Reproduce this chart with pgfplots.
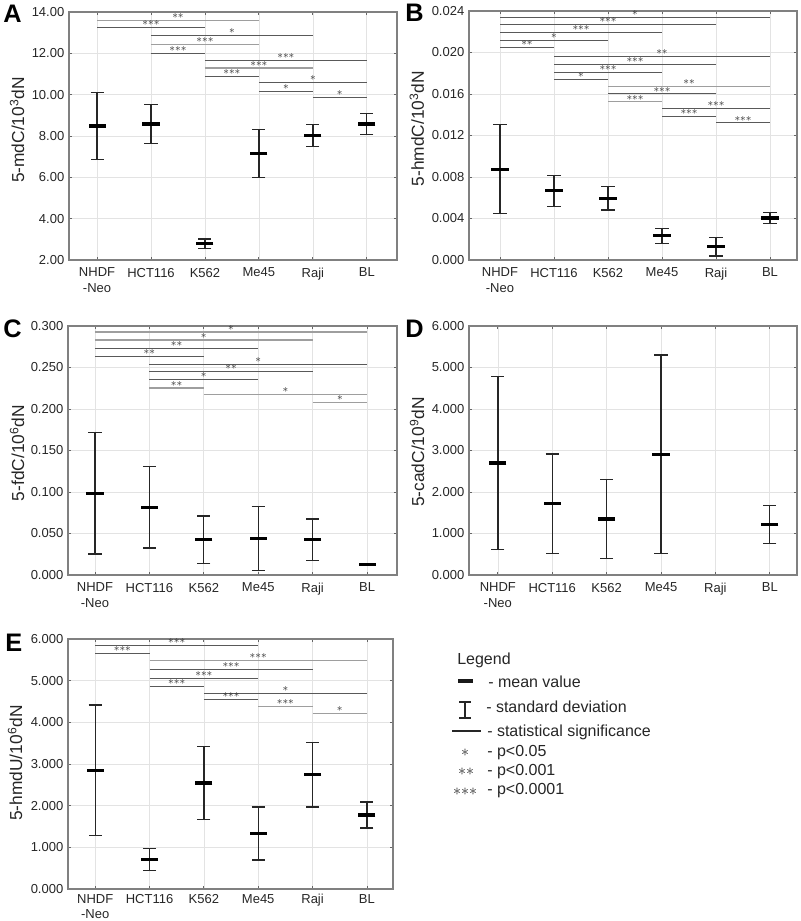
\documentclass[border=0pt]{standalone}
\usepackage{fontspec}
\setmainfont{Liberation Sans}
\usepackage{pgfplots}
\usepackage{pgfplotstable}
\pgfplotsset{compat=1.18}

\newcommand\tickfont{\fontsize{9.75}{11.3}\selectfont}
\newcommand\labfont{\fontsize{13}{15}\selectfont}
\newcommand\starfont{\fontsize{8.5}{9}\selectfont}
\newcommand\stOne{$\ast$}
\newcommand\stTwo{${\ast}{\ast}$}
\newcommand\stThree{${\ast}{\ast}{\ast}$}
\colorlet{dk}{black!65}
\colorlet{lt}{black!38}

% significance line: x1, x2, midpoint, y, stars, colour
\newcommand\sig[6]{%
  \addplot[#6, line width=0.8pt, forget plot] coordinates {(#1,#4) (#2,#4)};
  \node[inner sep=0pt, anchor=south, yshift=1.2pt, text=black!80, font=\starfont] at (axis cs:#3,#4) {#5};
}
\newcommand\meanplot[1]{%
  \addplot[black, only marks, mark=-, mark size=6.4pt, mark options={line width=2.4pt, black},
    error bars/.cd, y dir=both, y explicit, error mark=|,
    error bar style={line width=1pt, black!85},
    error mark options={line width=1pt, mark size=4.9pt, black!85}]
    table[x=x, y=m, y error=sd] {#1};
}

\pgfplotsset{
  panel/.style={
    scale only axis,
    anchor=south west,
    xtick={0,1,2,3,4,5},
    xticklabels={{NHDF\\-Neo},HCT116,K562,Me45,Raji,BL},
    xticklabel style={align=center, font=\tickfont, text=black!85, yshift=-2.5pt},
    yticklabel style={font=\tickfont, text=black!85,
      /pgf/number format/fixed, /pgf/number format/fixed zerofill,
      /pgf/number format/assume math mode=true},
    scaled y ticks=false,
    grid=major,
    major grid style={black!11, line width=0.5pt},
    axis line style={black!50, line width=1.1pt},
    tick style={black!60, line width=0.6pt},
    major tick length=2.5pt,
    clip=false,
  },
  ylab/.style n args={2}{every axis y label/.style={at={(axis description cs:#1,#2)}, rotate=90, anchor=center, font=\labfont, text=black!85}},
}

\pgfplotstableread{
x m sd
0 8.48 1.62
1 8.58 0.94
2 2.79 0.22
3 7.15 1.17
4 8.02 0.54
5 8.58 0.52
}\dataA
\pgfplotstableread{
x m sd
0 0.00875 0.0043
1 0.00667 0.0015
2 0.00596 0.00115
3 0.00233 0.00073
4 0.00128 0.00088
5 0.00405 0.00053
}\dataB
\pgfplotstableread{
x m sd
0 0.0984 0.073
1 0.0817 0.049
2 0.0426 0.0285
3 0.0438 0.0386
4 0.0426 0.025
5 0.0129 0.0012
}\dataC
\pgfplotstableread{
x m sd
0 2.70 2.09
1 1.72 1.197
2 1.35 0.956
3 2.91 2.39
5 1.22 0.462
}\dataD
\pgfplotstableread{
x m sd
0 2.850 1.567
1 0.715 0.265
2 2.545 0.870
3 1.333 0.635
4 2.745 0.775
5 1.775 0.313
}\dataE

\newcommand\PP[2]{({#1*0.75pt},{(921-#2)*0.75pt})}

\begin{document}
\begin{tikzpicture}
\path[use as bounding box] (0,0) rectangle (600pt,690.75pt);

% ---------------- A
\begin{axis}[panel, at={(51.75pt,495.75pt)}, width=246pt, height=186pt,
  xmin=-0.52, xmax=5.56, ymin=2, ymax=14, ytick={2,4,...,14},
  yticklabel style={/pgf/number format/precision=2},
  ylab={-0.1585}{0.524}, ylabel={5-mdC/10\textsuperscript{3}dN}]
\sig{0}{3}{1.5}{13.61}{\stTwo}{lt}
\sig{0}{2}{1}{13.26}{\stThree}{dk}
\sig{1}{4}{2.5}{12.87}{\stOne}{dk}
\sig{1}{3}{2}{12.42}{\stThree}{lt}
\sig{1}{2}{1.5}{11.99}{\stThree}{dk}
\sig{2}{5}{3.5}{11.65}{\stThree}{dk}
\sig{2}{4}{3}{11.29}{\stThree}{lt}
\sig{2}{3}{2.5}{10.88}{\stThree}{dk}
\sig{3}{5}{4}{10.59}{\stOne}{dk}
\sig{3}{4}{3.5}{10.17}{\stOne}{dk}
\sig{4}{5}{4.5}{9.86}{\stOne}{dk}
\meanplot{\dataA}
\end{axis}

% ---------------- B
\begin{axis}[panel, at={(351.75pt,495.75pt)}, width=246pt, height=186.75pt,
  xmin=-0.574, xmax=5.5, ymin=0, ymax=0.024, ytick={0,0.004,0.008,0.012,0.016,0.020,0.024},
  yticklabel style={/pgf/number format/precision=3},
  ylab={-0.159}{0.528}, ylabel={5-hmdC/10\textsuperscript{3}dN}]
\sig{0}{5}{2.5}{0.02336}{\stOne}{dk}
\sig{0}{4}{2}{0.02268}{\stThree}{dk}
\sig{0}{3}{1.5}{0.02191}{\stThree}{dk}
\sig{0}{2}{1}{0.02117}{\stOne}{dk}
\sig{0}{1}{0.5}{0.02046}{\stTwo}{dk}
\sig{1}{5}{3}{0.01965}{\stTwo}{dk}
\sig{1}{4}{2.5}{0.01885}{\stThree}{dk}
\sig{1}{3}{2}{0.01807}{\stThree}{dk}
\sig{1}{2}{1.5}{0.0174}{\stOne}{dk}
\sig{2}{5}{3.5}{0.01675}{\stTwo}{lt}
\sig{2}{4}{3}{0.01601}{\stThree}{dk}
\sig{2}{3}{2.5}{0.01524}{\stThree}{lt}
\sig{3}{5}{4}{0.01459}{\stThree}{dk}
\sig{3}{4}{3.5}{0.01382}{\stThree}{dk}
\sig{4}{5}{4.5}{0.01321}{\stThree}{dk}
\meanplot{\dataB}
\end{axis}

% ---------------- C
\begin{axis}[panel, at={(51pt,259.5pt)}, width=246.75pt, height=186.75pt,
  xmin=-0.496, xmax=5.55, ymin=0, ymax=0.3, ytick={0,0.05,0.1,0.15,0.2,0.25,0.3},
  yticklabel style={/pgf/number format/precision=3},
  ylab={-0.155}{0.49}, ylabel={5-fdC/10\textsuperscript{6}dN}]
\sig{0}{5}{2.5}{0.2928}{\stOne}{lt}
\sig{0}{4}{2}{0.2831}{\stOne}{lt}
\sig{0}{3}{1.5}{0.2731}{\stTwo}{dk}
\sig{0}{2}{1}{0.2635}{\stTwo}{dk}
\sig{1}{5}{3}{0.2538}{\stOne}{dk}
\sig{1}{4}{2.5}{0.2454}{\stTwo}{dk}
\sig{1}{3}{2}{0.2357}{\stOne}{dk}
\sig{1}{2}{1.5}{0.2253}{\stTwo}{lt}
\sig{2}{5}{3.5}{0.2173}{\stOne}{lt}
\sig{4}{5}{4.5}{0.208}{\stOne}{lt}
\meanplot{\dataC}
\end{axis}

% ---------------- D
\begin{axis}[panel, at={(351.75pt,259.5pt)}, width=246pt, height=186.75pt,
  xmin=-0.53, xmax=5.5, ymin=0, ymax=6, ytick={0,1,...,6},
  yticklabel style={/pgf/number format/precision=3},
  ylab={-0.158}{0.494}, ylabel={5-cadC/10\textsuperscript{9}dN}]
\meanplot{\dataD}
\end{axis}

% ---------------- E
\begin{axis}[panel, at={(51pt,24pt)}, width=243.75pt, height=187.5pt,
  xmin=-0.5, xmax=5.48, ymin=0, ymax=6, ytick={0,1,...,6},
  xticklabel style={yshift=2pt},
  yticklabel style={/pgf/number format/precision=3},
  ylab={-0.163}{0.504}, ylabel={5-hmdU/10\textsuperscript{6}dN}]
\sig{0}{3}{1.5}{5.839}{\stThree}{dk}
\sig{0}{1}{0.5}{5.647}{\stThree}{dk}
\sig{1}{5}{3}{5.478}{\stThree}{lt}
\sig{1}{4}{2.5}{5.277}{\stThree}{dk}
\sig{1}{3}{2}{5.06}{\stThree}{dk}
\sig{1}{2}{1.5}{4.867}{\stThree}{dk}
\sig{2}{5}{3.5}{4.699}{\stOne}{dk}
\sig{2}{3}{2.5}{4.554}{\stThree}{dk}
\sig{3}{4}{3.5}{4.378}{\stThree}{lt}
\sig{4}{5}{4.5}{4.209}{\stOne}{lt}
\meanplot{\dataE}
\end{axis}

% panel letters
\begin{scope}[every node/.style={inner sep=0pt, anchor=base west, font=\bfseries\fontsize{19}{19}\selectfont}]
\node at \PP{3}{23} {A};
\node at \PP{405}{22} {B};
\node at \PP{3}{338} {C};
\node at \PP{405}{338} {D};
\node at \PP{5}{652} {E};
\end{scope}

% legend
\begin{scope}[every node/.style={inner sep=0pt, anchor=base west, font=\fontsize{12}{14}\selectfont, text=black!85}]
\node at \PP{457}{665} {Legend};
\draw[line width=3pt, black!90] \PP{458}{681} -- \PP{473}{681};
\node at \PP{488}{688} {- mean value};
\draw[line width=0.9pt, black!85] \PP{465}{702} -- \PP{465}{718};
\draw[line width=0.9pt, black!85] \PP{459}{702} -- \PP{471}{702};
\draw[line width=0.9pt, black!85] \PP{459}{718} -- \PP{471}{718};
\node at \PP{486}{713} {- standard deviation};
\draw[line width=0.9pt, black!85] \PP{452}{731} -- \PP{481}{731};
\node at \PP{487}{737} {- statistical significance};
\node[anchor=center] at \PP{465}{753} {$\ast$};
\node at \PP{487}{757} {- p<0.05};
\node[anchor=center] at \PP{466}{772} {${\ast}{\ast}$};
\node at \PP{487}{776} {- p<0.001};
\node[anchor=center] at \PP{465}{792} {${\ast}{\ast}{\ast}$};
\node at \PP{487}{795} {- p<0.0001};
\end{scope}
\end{tikzpicture}
\end{document}
